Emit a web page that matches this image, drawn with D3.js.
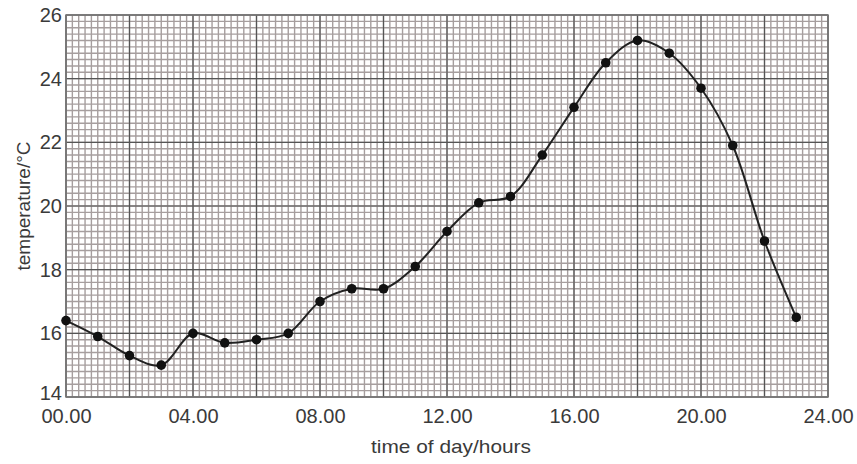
<!doctype html>
<html>
  <head>
    <script src="https://d3js.org/d3.v7.min.js"></script>
    <style>
      body { margin: 0; background: #fff; }
      text { font-family: "Liberation Sans", Arial, sans-serif; fill: #3a3a3a; }
    </style>
  </head>
  <body>
    <svg class="chart" width="857" height="464"></svg>
    <script>
      // readings taken every hour
      var hours = [0,1,2,3,4,5,6,7,8,9,10,11,12,13,14,15,16,17,18,19,20,21,22,23];
      var temps = [16.4,15.9,15.3,15.0,16.0,15.7,15.8,16.0,17.0,17.4,17.4,18.1,
                   19.2,20.1,20.3,21.6,23.1,24.5,25.2,24.8,23.7,21.9,18.9,16.5];
      var xTicks = [0,4,8,12,16,20,24];
      var yTicks = [14,16,18,20,22,24,26];

      var svg = d3.select("svg"),
        pL = 66, pT = 15, pR = 828, pB = 397;

      var x = d3.scaleLinear().domain([0,24]).range([pL,pR]);
      var y = d3.scaleLinear().domain([14,26]).range([pB,pT]);

      // graph paper: fine lines every 0.2, heavy lines every 2
      var grid = svg.append("g");
      var fineX = d3.range(0, 24.001, 0.2), fineY = d3.range(14, 26.001, 0.2);
      grid.selectAll(".fx").data(fineX).enter().append("line")
        .attr("x1", d => x(d)).attr("x2", d => x(d))
        .attr("y1", pT).attr("y2", pB)
        .attr("stroke", "#a69e9e").attr("stroke-width", 1.4);
      grid.selectAll(".fy").data(fineY).enter().append("line")
        .attr("y1", d => y(d)).attr("y2", d => y(d))
        .attr("x1", pL).attr("x2", pR)
        .attr("stroke", "#a69e9e").attr("stroke-width", 1.4);
      grid.selectAll(".mx").data(d3.range(0, 24.001, 2)).enter().append("line")
        .attr("x1", d => x(d)).attr("x2", d => x(d))
        .attr("y1", pT).attr("y2", pB)
        .attr("stroke", "#555").attr("stroke-width", 1.2);
      grid.selectAll(".my").data(d3.range(14, 26.001, 2)).enter().append("line")
        .attr("y1", d => y(d)).attr("y2", d => y(d))
        .attr("x1", pL).attr("x2", pR)
        .attr("stroke", "#555").attr("stroke-width", 1.2);
      grid.append("rect")
        .attr("x", pL).attr("y", pT)
        .attr("width", pR-pL).attr("height", pB-pT)
        .attr("fill", "none").attr("stroke", "#777").attr("stroke-width", 1.5);

      var xAxis = svg.append("g").attr("transform", "translate(0," + pB + ")")
        .call(d3.axisBottom(x).tickValues(xTicks).tickSize(0).tickPadding(12)
              .tickFormat(d => d3.format("02d")(d) + ".00"));
      var yAxis = svg.append("g").attr("transform", "translate(" + pL + ",0)")
        .call(d3.axisLeft(y).tickValues(yTicks).tickSize(0).tickPadding(4));
      [xAxis, yAxis].forEach(function(a){
        a.select(".domain").remove();
        a.selectAll("text").style("font-size", "20px").attr("fill", "#3a3a3a");
      });
      // bottom label sits a little above its line, clear of "00.00"
      yAxis.selectAll("text").filter(d => d === 14).attr("dy", "0.1em");

      svg.append("text").attr("x", 451).attr("y", 453)
        .attr("text-anchor", "middle").style("font-size", "19px")
        .attr("textLength", 160).attr("lengthAdjust", "spacingAndGlyphs")
        .text("time of day/hours");
      svg.append("text").attr("transform", "translate(30," + 206 + ") rotate(-90)")
        .attr("text-anchor", "middle").style("font-size", "19px")
        .text("temperature/°C");

      var pts = hours.map((h,i) => [h, temps[i]]);
      svg.append("path").datum(pts)
        .attr("d", d3.line().x(d => x(d[0])).y(d => y(d[1])).curve(d3.curveCatmullRom.alpha(0.5)))
        .attr("fill", "none").attr("stroke", "#222").attr("stroke-width", 2);
      svg.selectAll(".dot").data(pts).enter().append("circle")
        .attr("cx", d => x(d[0])).attr("cy", d => y(d[1])).attr("r", 4.8)
        .attr("fill", "#111");
    </script>
  </body>
</html>
